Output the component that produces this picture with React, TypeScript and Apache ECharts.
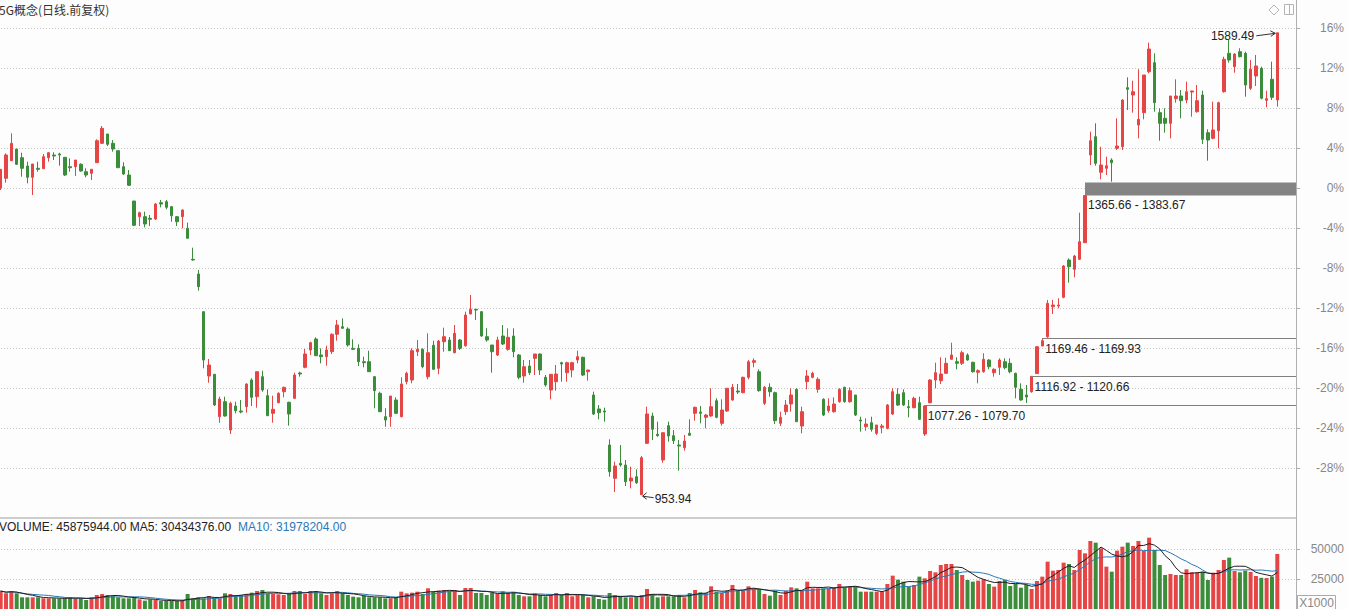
import React, { useEffect, useRef } from 'react';
import * as echarts from 'echarts';

const TITLE = '5G概念(日线.前复权)';
const SLOT_COUNT = 243;
const BASE_PRICE = 1376;

const openPct = [
  0, 0.97, 2.73, 3.9, 3.03, 2.2, 1.07, 1.97, 1.93, 3.03,
  3.3, 3.4, 3.07, 2.13, 2.13, 2.37, 1.63, 1.47, 2.53, 4.47,
  5.4, 4.47, 3.73, 2.13, 1.3, -1.3, -2.87, -2.87, -3.03, -3.1,
  -1.47, -1.37, -1.87, -2.87, -2.87, -4.03, -7.13, -8.6, -12.37, -18.8,
  -18.63, -22.87, -21.37, -24.2, -21.8, -22.3, -21.87, -19.2, -20.87, -18.87,
  -20.77, -22.53, -21.47, -20.37, -21.43, -21.03, -18.5, -17.93, -16.2, -15.1,
  -16.7, -16.87, -16.37, -14.63, -13.87, -14.1, -16.03, -16.03, -17.37, -17.37,
  -18.87, -20.53, -22.87, -22.87, -21.2, -22.87, -19.37, -19.2, -16.37, -16.13,
  -18.87, -15.73, -18.03, -15.37, -15.2, -16.47, -15.2, -15.77, -12.6, -12.13,
  -12.37, -14.87, -15.7, -16.7, -14.8, -16.13, -14.8, -16.7, -18.8, -17.8,
  -17.03, -16.6, -18.93, -20.2, -19.37, -17.47, -18.47, -18.2, -17.2, -16.93,
  -18.37, -20.7, -22.1, -22.3, -25.7, -29.03, -27.53, -27.7, -29.3, -28.87,
  -30.67, -25.53, -22.8, -24.63, -27.2, -23.77, -24.77, -25.7, -25.97, -24.53,
  -22.53, -22.4, -22.93, -22.8, -21.27, -23.53, -22.3, -21.2, -20.3, -20.47,
  -18.93, -17.43, -18.37, -21.53, -19.93, -20.47, -23.53, -22.37, -21.6, -20.13,
  -23.8, -19.37, -18.93, -20.13, -21.13, -22.27, -22.37, -21.37, -19.93, -21.37,
  -20.7, -23.2, -23.87, -23.47, -24.53, -23.93, -24.03, -22.6, -20.63, -20.47,
  -21.87, -21.97, -21.47, -24.6, -21.47, -19.2, -19.27, -18.53, -17.13, -17.37,
  -17.53, -16.7, -17.43, -18.43, -18.37, -17.2, -18.47, -17.93, -17.37, -17.53,
  -18.53, -20.13, -20.7, -20.37, -18.56, -15.8, -14.87, -11.87, -11.8, -10.93,
  -7.2, -8.13, -7.13, -5.47, 3.3, 5.13, 1.57, 1.97, 2.8, 3.97,
  4.13, 10.03, 9.3, 6.3, 7.53, 11.63, 12.53, 7.53, 6.97, 6.47,
  8.93, 9.2, 8.8, 9.6, 7.63, 9.3, 5.53, 4.97, 5.73, 9.63,
  13.47, 12.13, 13.63, 13.47, 9.97, 11.2, 11.97, 8.77, 10.87, 8.8,
];

const closePct = [
  1.87, 3.3, 4.47, 2.37, 1.97, 1.07, 2.4, 1.87, 3.13, 3.53,
  3.2, 3.3, 1.3, 2.03, 2.8, 1.7, 1.3, 1.87, 4.73, 5.97,
  4.37, 3.9, 2.03, 1.4, 0.27, -3.73, -2.47, -3.6, -3.13, -1.6,
  -1.6, -1.93, -2.77, -3.37, -2.2, -5.03, -7.2, -9.87, -17.2, -17.7,
  -21.7, -21.1, -22.8, -21.53, -22.27, -22.4, -19.6, -20.93, -18.37, -20.2,
  -22.77, -22.13, -20.53, -19.93, -22.6, -18.7, -18.6, -16.6, -15.47, -16.77,
  -16.87, -16.2, -14.63, -13.7, -14.03, -15.7, -16.13, -17.37, -17.47, -18.37,
  -20.27, -22.37, -23.2, -20.8, -22.53, -19.6, -18.53, -16.27, -16.13, -17.87,
  -16.47, -18.13, -15.3, -14.87, -16.27, -14.53, -16.03, -12.7, -12.13, -12.2,
  -14.8, -15.2, -16.37, -15.2, -15.6, -14.93, -16.37, -18.93, -17.87, -18.47,
  -16.6, -18.2, -19.7, -18.63, -18.6, -17.6, -17.47, -17.47, -16.87, -18.7,
  -18.2, -22.6, -22.47, -22.4, -28.37, -27.8, -27.7, -29.37, -29.0, -29.47,
  -26.97, -22.6, -24.13, -24.77, -24.47, -24.8, -25.27, -25.8, -25.3, -24.73,
  -21.93, -22.53, -22.7, -21.87, -22.93, -22.2, -20.03, -19.93, -20.4, -18.93,
  -17.37, -17.27, -20.27, -19.93, -20.37, -23.27, -22.93, -21.7, -20.7, -23.37,
  -22.37, -18.8, -18.53, -19.13, -22.7, -21.8, -21.6, -20.13, -21.37, -20.27,
  -22.7, -23.3, -23.6, -24.13, -23.7, -23.8, -21.7, -20.37, -21.7, -21.7,
  -21.97, -21.03, -23.13, -21.8, -19.2, -18.47, -18.6, -17.53, -16.7, -17.53,
  -16.47, -17.2, -18.37, -18.27, -17.13, -17.87, -18.13, -17.2, -17.97, -18.37,
  -19.93, -21.2, -20.9, -18.83, -15.87, -15.27, -11.53, -11.7, -11.7, -7.8,
  -7.87, -6.8, -5.37, -0.75, 4.73, 2.47, 2.3, 2.23, 2.53, 4.2,
  8.8, 9.87, 9.63, 6.87, 11.3, 13.9, 8.53, 6.47, 6.47, 9.2,
  9.2, 8.73, 9.63, 9.7, 8.73, 4.87, 4.8, 5.8, 8.53, 12.87,
  12.8, 13.4, 13.13, 10.3, 11.87, 12.2, 8.97, 8.93, 9.07, 15.52,
];

const lowPct = [
  -0.2, 0.53, 2.7, 2.3, 1.13, 0.47, -0.7, 1.63, 1.93, 2.63,
  2.8, 2.23, 1.2, 1.63, 1.2, 1.63, 1.07, 0.8, 2.53, 4.4,
  4.2, 3.63, 2.03, 1.3, 0.2, -3.8, -3.8, -3.93, -3.8, -3.2,
  -1.93, -2.13, -3.37, -3.8, -4.03, -5.03, -7.27, -10.27, -18.03, -19.47,
  -21.8, -23.47, -22.87, -24.6, -22.53, -22.53, -22.47, -21.8, -21.97, -20.37,
  -22.8, -23.47, -21.53, -20.93, -23.77, -21.1, -18.87, -18.03, -16.7, -16.8,
  -17.53, -17.77, -16.6, -15.27, -14.03, -15.87, -16.2, -17.8, -17.93, -18.37,
  -22.03, -22.37, -23.87, -23.87, -22.6, -22.93, -19.63, -19.53, -16.8, -18.03,
  -19.13, -18.2, -18.63, -16.37, -16.3, -16.53, -16.2, -15.87, -12.6, -13.2,
  -14.87, -15.37, -18.47, -16.8, -15.7, -16.27, -16.93, -19.13, -19.47, -18.7,
  -18.7, -18.7, -19.87, -21.13, -20.27, -19.37, -19.37, -18.93, -17.53, -18.8,
  -19.27, -22.7, -23.13, -23.37, -28.87, -30.4, -27.87, -29.8, -30.03, -29.6,
  -30.67, -25.6, -25.2, -24.87, -27.47, -25.37, -25.6, -28.27, -26.27, -24.73,
  -23.27, -23.53, -24.03, -22.87, -23.03, -23.77, -22.37, -21.27, -20.6, -20.53,
  -19.13, -17.93, -20.37, -21.7, -20.87, -23.6, -23.8, -22.7, -22.37, -23.37,
  -24.53, -20.13, -19.03, -20.47, -22.8, -22.47, -22.47, -21.47, -21.47, -21.47,
  -22.8, -24.37, -24.27, -24.37, -24.7, -24.53, -24.13, -22.7, -21.8, -21.8,
  -22.93, -22.03, -23.2, -24.8, -21.53, -20.03, -19.6, -18.6, -17.13, -18.13,
  -17.7, -17.27, -18.47, -19.53, -18.47, -18.13, -18.87, -18.7, -18.13, -18.53,
  -21.03, -21.27, -21.5, -20.47, -18.56, -15.8, -14.98, -12.6, -12.03, -11.03,
  -9.47, -8.93, -7.2, -5.5, 2.3, 2.23, 0.87, 1.3, 0.63, 3.8,
  3.8, 7.8, 7.53, 4.97, 6.87, 11.47, 7.63, 4.73, 5.53, 4.97,
  8.53, 6.97, 8.47, 7.13, 7.53, 4.4, 2.73, 4.87, 3.97, 9.53,
  12.53, 11.53, 13.07, 9.13, 9.8, 10.2, 8.87, 8.07, 8.8, 8.13,
];

const highPct = [
  1.9, 3.47, 5.47, 3.9, 3.53, 2.63, 2.4, 2.63, 3.4, 3.57,
  3.57, 3.53, 3.07, 2.97, 2.8, 2.47, 1.97, 1.87, 4.87, 6.2,
  5.4, 4.8, 3.73, 2.57, 1.8, -1.3, -2.37, -2.37, -2.7, -1.5,
  -1.2, -1.2, -1.8, -2.8, -2.13, -3.47, -5.97, -8.2, -12.37, -17.1,
  -18.6, -20.87, -20.87, -21.37, -21.37, -21.2, -19.53, -19.03, -18.37, -18.27,
  -20.13, -20.77, -20.43, -19.87, -21.37, -18.47, -18.37, -16.1, -15.37, -14.93,
  -16.03, -15.77, -14.53, -13.2, -13.03, -13.93, -15.13, -15.63, -16.87, -16.27,
  -18.8, -20.37, -22.03, -20.8, -20.93, -18.93, -18.37, -16.03, -15.2, -16.03,
  -14.53, -15.27, -15.2, -13.97, -14.9, -13.7, -15.1, -12.37, -10.7, -12.13,
  -12.3, -14.03, -15.7, -14.87, -13.7, -14.03, -14.03, -16.6, -17.2, -17.2,
  -16.6, -16.53, -18.7, -18.63, -17.7, -17.37, -17.37, -17.37, -16.27, -16.87,
  -18.2, -20.37, -21.7, -21.97, -25.13, -27.37, -25.7, -27.2, -27.87, -28.13,
  -26.8, -21.87, -22.47, -23.37, -24.47, -23.37, -24.2, -25.2, -24.7, -23.13,
  -21.87, -21.8, -22.6, -20.03, -21.03, -21.13, -20.03, -19.6, -19.6, -18.87,
  -17.2, -17.03, -18.13, -19.8, -19.53, -20.37, -22.37, -21.2, -20.03, -20.03,
  -21.87, -18.2, -18.37, -18.93, -21.03, -21.03, -20.93, -20.03, -19.87, -19.93,
  -20.7, -22.87, -23.03, -22.87, -23.7, -23.6, -21.6, -20.03, -20.03, -20.13,
  -21.2, -20.87, -20.87, -21.71, -19.13, -17.47, -16.93, -16.97, -15.47, -16.93,
  -16.27, -16.53, -17.37, -18.13, -16.53, -17.13, -18.03, -17.03, -17.03, -17.03,
  -18.47, -19.53, -19.7, -18.83, -15.8, -15.01, -11.2, -11.2, -11.03, -7.7,
  -7.03, -6.7, -2.47, -0.75, 5.63, 6.47, 4.13, 3.13, 2.97, 6.97,
  8.87, 11.07, 10.73, 11.87, 11.3, 14.53, 13.47, 7.97, 7.97, 9.2,
  10.87, 9.8, 10.63, 9.73, 10.3, 9.73, 5.87, 8.63, 8.63, 13.13,
  14.8, 13.47, 13.97, 13.63, 12.8, 13.3, 12.13, 9.73, 12.63, 15.52,
];

// volume, in thousands
const volumeK = [
  15000, 13056, 15000, 13056, 9722, 9722, 9722, 9722, 8889, 8889,
  8889, 8889, 8889, 9722, 8889, 8889, 7500, 9722, 11667, 12500,
  11667, 10833, 9722, 8889, 8889, 9722, 8056, 6944, 8056, 7500,
  6667, 6667, 6667, 6667, 7500, 12500, 8889, 9722, 8889, 10833,
  9722, 8889, 13056, 12500, 11389, 11667, 12500, 13611, 15000, 15833,
  13056, 12500, 12222, 11667, 13056, 15000, 15000, 12500, 15000, 15000,
  13056, 11667, 13056, 15000, 13056, 11667, 10278, 9722, 10833, 9722,
  9722, 9722, 8889, 8889, 9722, 14444, 13056, 13611, 14444, 12500,
  17222, 14444, 15278, 15833, 15000, 15833, 11667, 17500, 17500, 13333,
  13333, 11667, 13333, 12500, 14722, 13333, 13889, 11667, 10556, 10556,
  13056, 11667, 10556, 11667, 13333, 11667, 13333, 10556, 11667, 11667,
  9722, 10556, 8333, 7778, 13333, 11667, 10556, 9722, 9722, 10556,
  11667, 16667, 12500, 9722, 10556, 10556, 10556, 11667, 9722, 13333,
  15833, 13889, 13333, 18889, 14444, 13333, 15278, 20000, 15278, 15278,
  18889, 17222, 16667, 12500, 11111, 15278, 11667, 15278, 18056, 17222,
  15278, 22778, 17222, 17222, 17222, 17222, 18056, 20833, 18056, 18889,
  18889, 14444, 14444, 14444, 14444, 14444, 20833, 27778, 24444, 22778,
  18611, 20000, 26944, 25556, 31667, 30556, 36667, 37500, 37500, 32500,
  28333, 24167, 22778, 23611, 24722, 20833, 18611, 23333, 24167, 19167,
  20833, 17778, 20000, 16667, 23333, 26944, 39444, 31944, 32500, 38611,
  37500, 32500, 49167, 46389, 56667, 55278, 50556, 35278, 31111, 48611,
  51944, 55278, 52500, 56667, 48333, 59444, 49167, 36667, 28333, 29167,
  28333, 28333, 33056, 30556, 30556, 31111, 24167, 30278, 32500, 40833,
  42778, 31667, 30556, 32000, 30900, 27500, 26000, 25800, 27000, 45876,
];

const gapStart = [173, 193, 195, 203];
const gapLow = [1077.26, 1116.92, 1169.46, 1365.66];
const gapHigh = [1079.7, 1120.66, 1169.93, 1383.67];
const peakPrice = 1589.49;
const troughPrice = 953.94;
const legendVolume = 45875944;
const legendMa5 = 30434376;
const legendMa10 = 31978204;

const RED = '#e64545';
const GREEN = '#3b8c3b';
const MA5_COLOR = '#1e1e1e';
const MA10_COLOR = '#2b78b8';
const LATIN = '"Liberation Sans", Arial, sans-serif';
const CJK = '"Noto Sans CJK SC", "Liberation Sans", sans-serif';
const GRID_LEFT = -2;
const GRID_RIGHT = 1296;
const W = 1348;
const H = 609;

function textEl(x: number, y: number, text: string, opts: any = {}) {
  const align = opts.align || 'left';
  return {
    type: 'text',
    x,
    y,
    z: 60,
    style: {
      text,
      fill: opts.fill || '#222',
      font: opts.font || `12px ${LATIN}`,
      textAlign: align,
      textVerticalAlign: 'middle',
      align,
      verticalAlign: 'middle',
    },
  };
}

function lineEl(x1: number, y1: number, x2: number, y2: number, stroke: string, lineWidth = 1) {
  return { type: 'line', z: 55, shape: { x1, y1, x2, y2 }, style: { stroke, lineWidth } };
}

export default function App() {
  const ref = useRef<HTMLDivElement>(null);

  useEffect(() => {
    if (!ref.current) return;
    const chart = echarts.init(ref.current, null, { renderer: 'svg' });

    const categories = Array.from({ length: SLOT_COUNT }, (_, i) => `D${i + 1}`);
    const kData = openPct.map((o, i) => [o, closePct[i], lowPct[i], highPct[i]]);
    const isUp = (i: number) => closePct[i] >= openPct[i];
    const volData = volumeK.map((v, i) => ({ value: v, itemStyle: { color: isUp(i) ? RED : GREEN } }));
    const ma = (n: number) =>
      volumeK.map((_, i) => {
        const s = Math.max(0, i - n + 1);
        let sum = 0;
        for (let j = s; j <= i; j++) sum += volumeK[j];
        return Math.round(sum / (i - s + 1));
      });
    const dotted = { color: '#c6c6c6', type: [1, 2], width: 1 };

    chart.setOption({
      animation: false,
      backgroundColor: '#fdfdfd',
      grid: [
        { left: GRID_LEFT, width: GRID_RIGHT - GRID_LEFT, top: 28, height: 480, outerBoundsMode: 'none' },
        { left: GRID_LEFT, width: GRID_RIGHT - GRID_LEFT, top: 519, height: 90, outerBoundsMode: 'none' },
      ],
      xAxis: [0, 1].map((g) => ({
        type: 'category',
        gridIndex: g,
        data: categories,
        boundaryGap: true,
        show: false,
      })),
      yAxis: [
        {
          type: 'value',
          gridIndex: 0,
          position: 'right',
          min: -32,
          max: 16,
          interval: 4,
          axisLine: { show: false },
          axisTick: { show: true, length: 4, lineStyle: { color: '#aaa' } },
          axisLabel: {
            margin: 48,
            align: 'right',
            color: '#888',
            fontSize: 12,
            fontFamily: LATIN,
            showMinLabel: false,
            formatter: (v: number) => `${v}%`,
          },
          splitLine: { show: true, showMinLine: false, lineStyle: dotted },
        },
        {
          type: 'value',
          gridIndex: 1,
          position: 'right',
          min: 0,
          max: 75000,
          interval: 25000,
          axisLine: { show: false },
          axisTick: { show: true, length: 4, lineStyle: { color: '#aaa' } },
          axisLabel: {
            margin: 48,
            align: 'right',
            color: '#888',
            fontSize: 12,
            fontFamily: LATIN,
            showMinLabel: false,
            showMaxLabel: false,
            formatter: (v: number) => String(v),
          },
          splitLine: { show: true, showMinLine: false, showMaxLine: false, lineStyle: dotted },
        },
      ],
      series: [
        {
          type: 'candlestick',
          xAxisIndex: 0,
          yAxisIndex: 0,
          data: kData,
          barWidth: 3,
          itemStyle: {
            color: RED,
            color0: GREEN,
            borderColor: RED,
            borderColor0: GREEN,
            borderColorDoji: RED,
            borderWidth: 1,
          },
        },
        {
          type: 'bar',
          xAxisIndex: 1,
          yAxisIndex: 1,
          data: volData,
          barWidth: 4,
        },
        {
          type: 'line',
          xAxisIndex: 1,
          yAxisIndex: 1,
          data: ma(10),
          showSymbol: false,
          symbol: 'none',
          lineStyle: { color: MA10_COLOR, width: 1 },
          z: 4,
        },
        {
          type: 'line',
          xAxisIndex: 1,
          yAxisIndex: 1,
          data: ma(5),
          showSymbol: false,
          symbol: 'none',
          lineStyle: { color: MA5_COLOR, width: 1 },
          z: 5,
        },
      ],
    });

    const toPx = (i: number, pct: number) =>
      chart.convertToPixel({ gridIndex: 0 } as any, [i, pct]) as unknown as number[];
    const pricePct = (p: number) => (p / BASE_PRICE - 1) * 100;

    const els: any[] = [];
    // frame
    els.push(lineEl(GRID_RIGHT + 0.5, 0, GRID_RIGHT + 0.5, H, '#b0b0b0'));
    els.push(lineEl(0, 518, GRID_RIGHT, 518, '#bdbdbd', 1.5));
    // title
    els.push(textEl(-1, 9, TITLE, { fill: '#333', font: `12px ${CJK}` }));
    // icons top-right
    els.push({
      type: 'polygon',
      z: 55,
      shape: { points: [[1269, 10], [1274, 5], [1279, 10], [1274, 15]] },
      style: { fill: 'none', stroke: '#b4b4b4', lineWidth: 1 },
    });
    els.push({
      type: 'rect',
      z: 55,
      shape: { x: 1284.5, y: 4.5, width: 9, height: 10 },
      style: { fill: 'none', stroke: '#b4b4b4', lineWidth: 1 },
    });
    els.push(lineEl(1289.5, 4.5, 1289.5, 14.5, '#b4b4b4'));
    // volume legend
    els.push(
      textEl(-1, 527, `VOLUME: ${legendVolume.toFixed(2)} MA5: ${legendMa5.toFixed(2)}`, { fill: '#222' })
    );
    els.push(textEl(238, 527, `MA10: ${legendMa10.toFixed(2)}`, { fill: MA10_COLOR }));
    // X1000 box
    els.push({
      type: 'rect',
      z: 55,
      shape: { x: 1297.5, y: 595.5, width: 38, height: 14 },
      style: { fill: 'none', stroke: '#aaa', lineWidth: 1 },
    });
    els.push(textEl(1316.5, 602.5, 'X1000', { fill: '#888', align: 'center' }));

    // gaps
    gapStart.forEach((idx, k) => {
      const [x0, yHi] = toPx(idx, pricePct(gapHigh[k]));
      const [, yLo] = toPx(idx, pricePct(gapLow[k]));
      if (yLo - yHi >= 4) {
        els.push({
          type: 'rect',
          z: 50,
          shape: { x: x0, y: yHi, width: GRID_RIGHT - x0, height: yLo - yHi },
          style: { fill: '#848484' },
        });
        els.push(textEl(x0 + 3, yLo + 9, `${gapLow[k].toFixed(2)} - ${gapHigh[k].toFixed(2)}`));
      } else {
        const yl = Math.round(yLo) + 0.5;
        els.push(lineEl(x0, yl, GRID_RIGHT, yl, '#808080'));
        els.push(textEl(x0 + 3, yLo + 11, `${gapLow[k].toFixed(2)} - ${gapHigh[k].toFixed(2)}`));
      }
    });

    // extremes
    let hiIdx = 0;
    let loIdx = 0;
    highPct.forEach((v, i) => {
      if (v > highPct[hiIdx]) hiIdx = i;
    });
    lowPct.forEach((v, i) => {
      if (v < lowPct[loIdx]) loIdx = i;
    });
    const [hx, hy] = toPx(hiIdx, highPct[hiIdx]);
    els.push(lineEl(hx - 21, hy + 3, hx - 2, hy + 0.5, '#333'));
    els.push({
      type: 'polyline',
      z: 55,
      shape: { points: [[hx - 7, hy - 2], [hx - 2, hy + 0.5], [hx - 6.5, hy + 3.5]] },
      style: { fill: 'none', stroke: '#333', lineWidth: 1 },
    });
    els.push(textEl(hx - 23, hy + 3.5, peakPrice.toFixed(2), { align: 'right' }));

    const [lx, ly] = toPx(loIdx, lowPct[loIdx]);
    els.push(lineEl(lx + 1, ly + 1.5, lx + 12, ly + 3, '#333'));
    els.push({
      type: 'polyline',
      z: 55,
      shape: { points: [[lx + 5, ly - 2], [lx + 1, ly + 1.5], [lx + 5, ly + 4.5]] },
      style: { fill: 'none', stroke: '#333', lineWidth: 1 },
    });
    els.push(textEl(lx + 13, ly + 4, troughPrice.toFixed(2)));

    chart.setOption({ graphic: { elements: els } });

    return () => {
      chart.dispose();
    };
  }, []);

  return (
    <div
      ref={ref}
      style={{ position: 'fixed', left: 0, top: 0, width: W, height: H, background: '#fdfdfd' }}
    />
  );
}
